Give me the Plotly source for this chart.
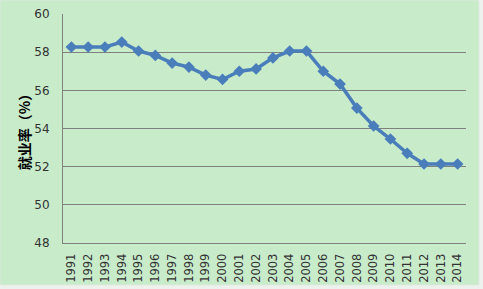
import plotly.graph_objects as go

years = [str(y) for y in range(1991, 2015)]
rates = [58.27, 58.27, 58.27, 58.53, 58.06, 57.83, 57.43, 57.22, 56.8, 56.57,
         57.0, 57.12, 57.7, 58.06, 58.06, 57.0, 56.33, 55.07, 54.13, 53.45,
         52.7, 52.14, 52.14, 52.14]
y_ticks = [48, 50, 52, 54, 56, 58, 60]

W, H = 483, 289
ml, mr, mt, mb = 63, 17, 14, 46
pw, ph = W - ml - mr, H - mt - mb

fig = go.Figure()
fig.add_trace(go.Scatter(
    x=years, y=rates, mode="lines+markers",
    line=dict(color="#4a7ebb", width=3.5),
    marker=dict(symbol="diamond", size=9, color="#4a7ebb"),
    showlegend=False,
))

fig.add_shape(type="rect", xref="paper", yref="paper", layer="below",
              x0=-ml / pw, x1=(W - 4 - ml) / pw,
              y0=-(mb - 4) / ph, y1=1 + mt / ph,
              fillcolor="#c8ebca", line=dict(color="#dfe8df", width=1))

fig.update_layout(
    width=W, height=H,
    margin=dict(l=ml, r=mr, t=mt, b=mb, autoexpand=False),
    paper_bgcolor="#eef2ee",
    plot_bgcolor="rgba(0,0,0,0)",
    font=dict(family="DejaVu Sans", size=11, color="#222222"),
)
fig.update_xaxes(
    type="category", range=[-0.5, len(years) - 0.5], automargin=False,
    tickangle=-90, showgrid=False, ticks="",
    showline=True, linecolor="#808080", linewidth=1,
    tickfont=dict(size=11.5, family="DejaVu Sans", color="#333333"),
    ticklabelstandoff=5,
)
fig.update_yaxes(
    range=[48, 60], tickvals=y_ticks, ticks="", automargin=False,
    showgrid=True, gridcolor="#808080", gridwidth=1,
    showline=True, linecolor="#808080", linewidth=1,
    zeroline=False,
    ticklabelstandoff=10,
    title=dict(text="<b>就业率（%）</b>", standoff=0,
               font=dict(family="Noto Sans CJK SC", size=14, color="#000000")),
    tickfont=dict(size=12, family="DejaVu Sans", color="#333333"),
)

fig.write_html("out.html")
